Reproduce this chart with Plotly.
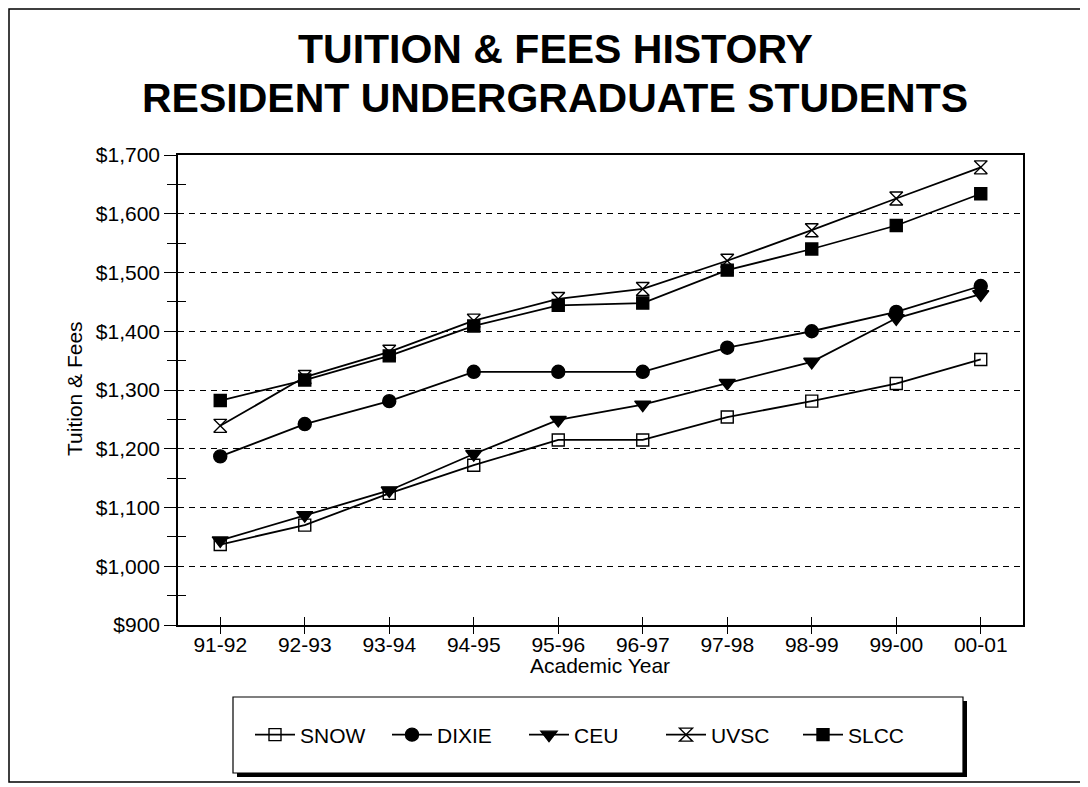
import plotly.graph_objects as go

years = ["91-92", "92-93", "93-94", "94-95", "95-96", "96-97", "97-98", "98-99", "99-00", "00-01"]
snow = [1037, 1070, 1124, 1172, 1215, 1215, 1254, 1281, 1311, 1352]
dixie = [1187, 1242, 1281, 1331, 1331, 1331, 1372, 1400, 1433, 1477]
ceu = [1044, 1087, 1129, 1191, 1249, 1275, 1312, 1348, 1422, 1463]
uvsc = [1239, 1322, 1365, 1418, 1455, 1472, 1520, 1572, 1626, 1679]
slcc = [1282, 1317, 1358, 1409, 1444, 1448, 1504, 1540, 1580, 1634]

FONT = "Liberation Sans, Arial, sans-serif"

series = [
    ("SNOW", snow, "square-open", 12),
    ("DIXIE", dixie, "circle", 13),
    ("CEU", ceu, "triangle-down", 14),
    ("UVSC", uvsc, "hourglass-open", 13),
    ("SLCC", slcc, "square", 12),
]

fig = go.Figure()
for name, vals, sym, size in series:
    fig.add_trace(go.Scatter(
        x=years, y=vals, name=name, mode="lines+markers",
        line=dict(color="black", width=1.8),
        marker=dict(symbol=sym, size=size, color="black",
                    line=dict(color="black", width=1.4)),
    ))

# helper empty trace for the overlaid axes (crossing ticks)
fig.add_trace(go.Scatter(x=[], y=[], xaxis="x2", yaxis="y2", showlegend=False))

OFF = 8  # page offset of the rendered figure
W, H = 1088, 787
# plot area in screen pixels
PX0, PX1, PY0, PY1 = 178, 1023, 155, 625
L = PX0 - OFF
T = PY0 - OFF
R = W - (PX1 - OFF)
B = H - (PY1 - OFF)
pw, ph = PX1 - PX0, PY1 - PY0

def px_x(p):
    return (p - PX0) / pw

def px_y(p):
    return (PY1 - p) / ph

fig.update_layout(
    width=W, height=H,
    margin=dict(l=L, r=R, t=T, b=B, autoexpand=False),
    paper_bgcolor="white", plot_bgcolor="white",
    font=dict(family=FONT, size=21, color="black"),
    xaxis=dict(
        type="category", range=[-0.5, 9.5],
        showline=True, linecolor="black", linewidth=1.5, mirror=True,
        ticks="inside", ticklen=8, tickwidth=1, tickcolor="black",
        showgrid=False, zeroline=False,
        tickfont=dict(size=21),
    ),
    yaxis=dict(
        range=[900, 1700], dtick=100, tickprefix="$", tickformat=",d",
        showline=True, linecolor="black", linewidth=1.5, mirror=True,
        ticks="outside", ticklen=12, tickwidth=1, tickcolor="black",
        minor=dict(dtick=50, ticks="outside", ticklen=9, tickcolor="black", tickwidth=1),
        showgrid=True, gridcolor="black", griddash="6px,5px", gridwidth=1,
        zeroline=False, tickfont=dict(size=21),
    ),
    xaxis2=dict(
        overlaying="x", anchor="y", range=[-0.5, 9.5],
        tickvals=list(range(10)), ticks="outside", ticklen=8, tickcolor="black",
        showticklabels=False, showgrid=False, zeroline=False, showline=False,
    ),
    yaxis2=dict(
        overlaying="y", anchor="x", range=[900, 1700],
        tickvals=[950, 1050, 1150, 1250, 1350, 1450, 1550, 1650],
        ticks="inside", ticklen=8, tickcolor="black",
        showticklabels=False, showgrid=False, zeroline=False, showline=False,
    ),
    legend=dict(
        orientation="h", x=px_x(250), y=px_y(735), xanchor="left", yanchor="middle",
        bgcolor="rgba(0,0,0,0)", borderwidth=0, font=dict(size=21),
        itemwidth=40, entrywidth=82, entrywidthmode="pixels",
    ),
    showlegend=True,
)

shapes = [
    # outer frame
    dict(type="rect", xref="paper", yref="paper",
         x0=px_x(9), x1=px_x(1100), y0=px_y(782), y1=px_y(9),
         line=dict(color="black", width=1.5), fillcolor="rgba(0,0,0,0)", layer="below"),
    # legend shadow
    dict(type="rect", xref="paper", yref="paper",
         x0=px_x(237), x1=px_x(967), y0=px_y(777), y1=px_y(701),
         line=dict(width=0), fillcolor="black", layer="below"),
    # legend box
    dict(type="rect", xref="paper", yref="paper",
         x0=px_x(233), x1=px_x(963), y0=px_y(773), y1=px_y(697),
         line=dict(color="black", width=1.2), fillcolor="white", layer="below"),
]
fig.update_layout(shapes=shapes)

annotations = [
    dict(text="<b>TUITION & FEES HISTORY</b>", x=px_x(555), y=px_y(49),
         xref="paper", yref="paper", showarrow=False, xanchor="center", yanchor="middle",
         font=dict(size=41, family=FONT)),
    dict(text="<b>RESIDENT UNDERGRADUATE STUDENTS</b>", x=px_x(555), y=px_y(98),
         xref="paper", yref="paper", showarrow=False, xanchor="center", yanchor="middle",
         font=dict(size=41, family=FONT)),
    dict(text="Tuition & Fees", x=px_x(74), y=px_y(389), textangle=-90,
         xref="paper", yref="paper", showarrow=False, xanchor="center", yanchor="middle",
         font=dict(size=21, family=FONT)),
    dict(text="Academic Year", x=px_x(600), y=px_y(665),
         xref="paper", yref="paper", showarrow=False, xanchor="center", yanchor="middle",
         font=dict(size=21, family=FONT)),
]
fig.update_layout(annotations=annotations)

fig.write_html("out.html")
